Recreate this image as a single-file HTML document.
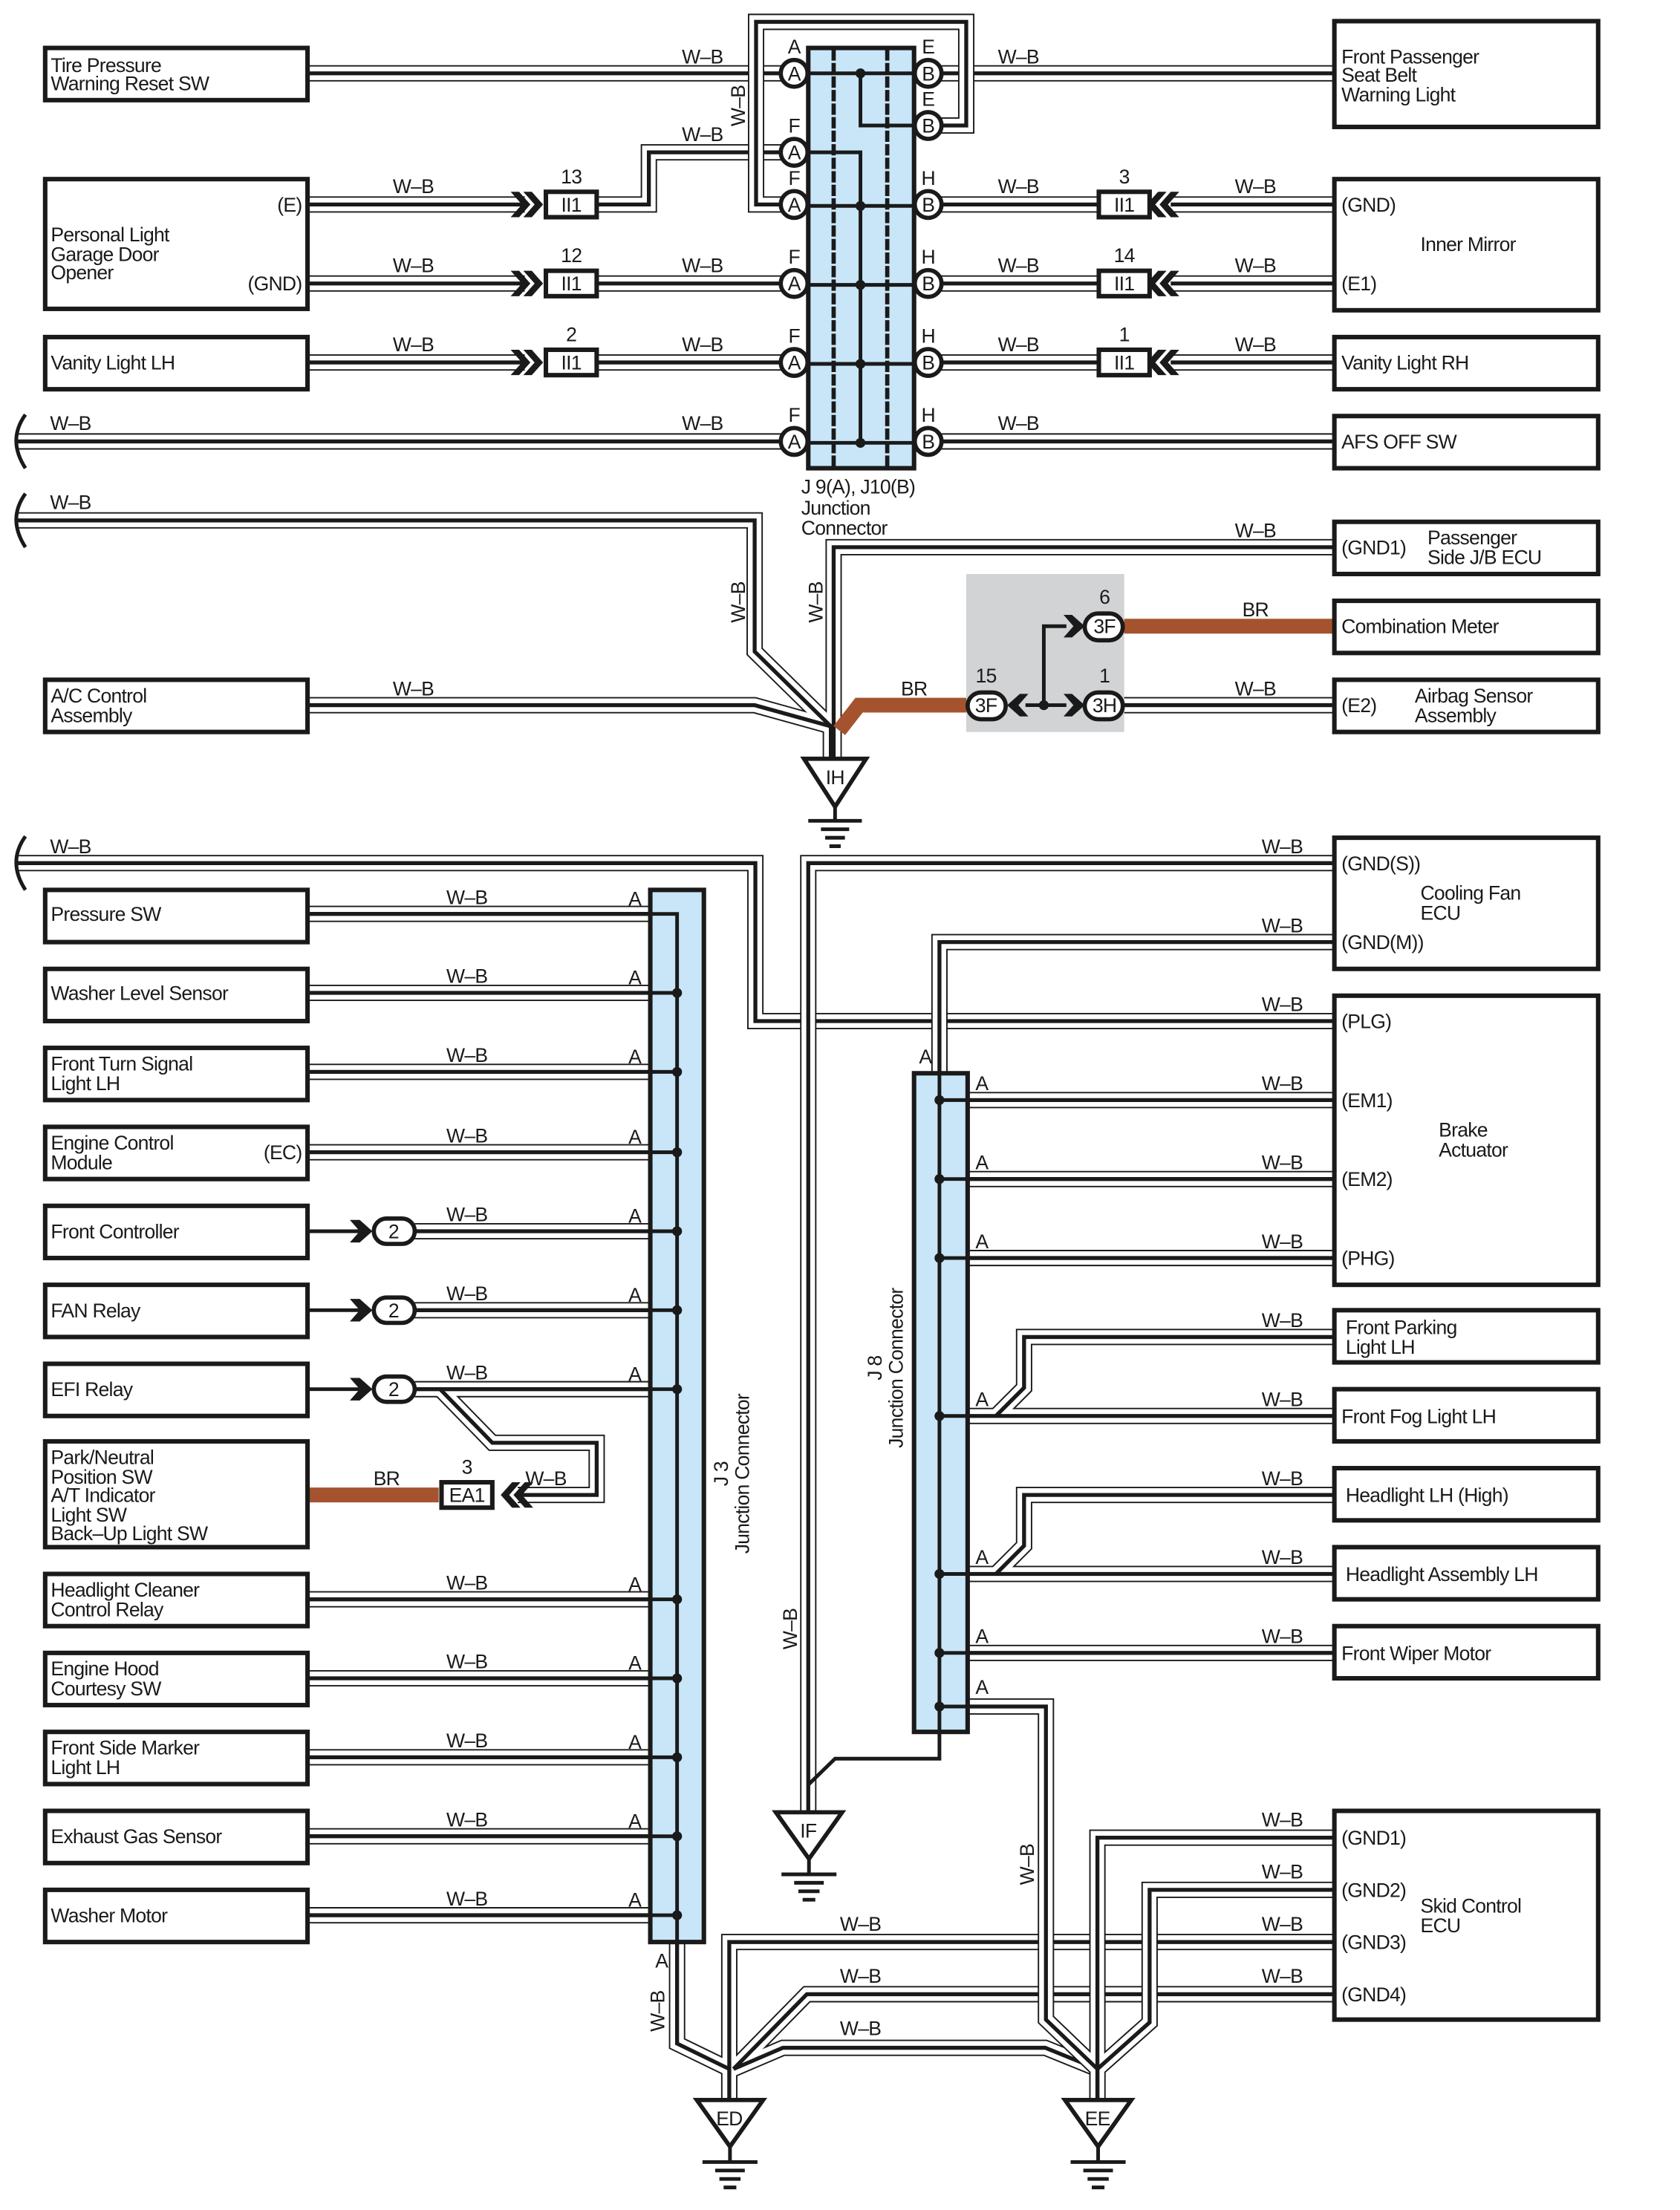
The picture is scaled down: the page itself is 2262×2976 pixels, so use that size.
<!DOCTYPE html>
<html><head><meta charset="utf-8"><style>
html,body{margin:0;padding:0;background:#fff}
svg{display:block}
text{font-family:"Liberation Sans Narrow","Liberation Sans",sans-serif;font-size:14px;fill:#1a1a1a;letter-spacing:-0.4px}
.m{text-anchor:middle}
.e{text-anchor:end}
.bx{fill:#fff;stroke:#1a1a1a;stroke-width:3.2}
.ln{fill:none;stroke:#1a1a1a;stroke-width:2.6}
.ci{fill:#fff;stroke:#1a1a1a;stroke-width:3}
.dot{fill:#1a1a1a}
.br{fill:none;stroke:#a5532f;stroke-width:10.5}
.ch{fill:#1a1a1a}
</style></head><body>
<svg width="2262" height="2976" viewBox="0 0 1191 1567" xmlns="http://www.w3.org/2000/svg">
<defs>
<g id="W">
<path d="M218,52 H563"/>
<path d="M657,52 H946"/>
<path d="M218,145 H372"/><path d="M419,145 H460 V108 H563"/>
<path d="M218,201 H372"/><path d="M419,201 H563"/>
<path d="M218,257 H372"/><path d="M419,257 H563"/>
<path d="M12,313 H563"/>
<path d="M657,145 H780"/><path d="M830,145 H946"/>
<path d="M657,201 H780"/><path d="M830,201 H946"/>
<path d="M657,257 H780"/><path d="M830,257 H946"/>
<path d="M657,313 H946"/>
<path d="M12,369 H535 V462 L589,515 V537"/>
<path d="M218,500 H535 L589,515"/>
<path d="M946,388 H591 V537"/>
<path d="M797,500 H946"/>
<path d="M12,612 H535.5 V724 H946"/>
<path d="M686,780 H946"/><path d="M686,836 H946"/><path d="M686,892 H946"/>
<path d="M686,1004 H946"/><path d="M686,1116 H946"/><path d="M686,1172 H946"/>
<path d="M946,948 H726 V984 L706,1004"/>
<path d="M946,1060 H726 V1096 L706,1116"/>
<path d="M946,1377 H517 V1488"/>
<path d="M946,1414 H572 L520,1467"/>
<path d="M520,1467 L555,1452 H741 L778,1467"/>
<path d="M480,1377 V1449 L517,1467"/>
<path d="M218,648 H461"/><path d="M218,704 H461"/><path d="M218,760 H461"/><path d="M218,817 H461"/>
<path d="M294,873 H461"/><path d="M294,929 H461"/><path d="M294,985 H461"/>
<path d="M218,1134 H461"/><path d="M218,1190 H461"/><path d="M218,1246 H461"/><path d="M218,1302 H461"/><path d="M218,1358 H461"/>
<path d="M312,985 L349,1023 H423 V1060 H367"/>
</g>
<g id="W2">
<path d="M657,89 H685 V15.5 H536 V145 H563"/>
<path d="M946,612 H573 V1284"/>
<path d="M946,668 H666 V761"/>
<path d="M686,1210 H741.5 V1432 L778,1467 V1488"/>
<path d="M946,1303 H778 V1488"/>
<path d="M946,1340 H815 V1434 L778,1467"/>
</g>
</defs>

<rect x="685" y="407" width="112" height="112" fill="#d1d3d4"/>

<g fill="none" stroke-linejoin="miter">
<use href="#W" stroke="#1a1a1a" stroke-width="11.6"/>
<use href="#W" stroke="#fff" stroke-width="9.6"/>
<use href="#W" stroke="#1a1a1a" stroke-width="2.8"/>
<use href="#W2" stroke="#1a1a1a" stroke-width="11.6"/>
<use href="#W2" stroke="#fff" stroke-width="9.6"/>
<use href="#W2" stroke="#1a1a1a" stroke-width="2.8"/>
</g>

<path class="br" d="M218,1060 H311"/>
<path class="br" d="M797,444 H946"/>
<path class="br" d="M685,500 H609 L595,518"/>

<g class="ln" stroke-width="2.2">
<path d="M18,294 Q5,312 18,332"/>
<path d="M18,350 Q5,368 18,388"/>
<path d="M18,593 Q5,611 18,631"/>
</g>

<rect x="573" y="34" width="75" height="298" fill="#c8e6f8" stroke="#1a1a1a" stroke-width="3.2"/>
<g stroke="#1a1a1a" stroke-width="3" stroke-dasharray="8 1.6"><line x1="591" y1="35" x2="591" y2="331"/><line x1="629" y1="35" x2="629" y2="331"/></g>
<g class="ln">
<path d="M573,52 H648"/><path d="M610,52 V89 H648"/>
<path d="M573,108 H610 V314"/>
<path d="M573,146 H648"/><path d="M573,202 H648"/><path d="M573,258 H648"/><path d="M573,314 H648"/>
</g>
<g class="dot"><circle cx="610" cy="52" r="3.5"/><circle cx="610" cy="146" r="3.5"/><circle cx="610" cy="202" r="3.5"/><circle cx="610" cy="258" r="3.5"/><circle cx="610" cy="314" r="3.5"/></g>
<g class="ci">
<circle cx="563" cy="52" r="9.5"/><circle cx="563" cy="108" r="9.5"/><circle cx="563" cy="145" r="9.5"/><circle cx="563" cy="201" r="9.5"/><circle cx="563" cy="257" r="9.5"/><circle cx="563" cy="313" r="9.5"/>
<circle cx="658" cy="52" r="9.5"/><circle cx="658" cy="89" r="9.5"/><circle cx="658" cy="145" r="9.5"/><circle cx="658" cy="201" r="9.5"/><circle cx="658" cy="257" r="9.5"/><circle cx="658" cy="313" r="9.5"/>
</g>
<g class="m" font-size="13">
<text x="563" y="57">A</text><text x="563" y="113">A</text><text x="563" y="150">A</text><text x="563" y="206">A</text><text x="563" y="262">A</text><text x="563" y="318">A</text>
<text x="658" y="57">B</text><text x="658" y="94">B</text><text x="658" y="150">B</text><text x="658" y="206">B</text><text x="658" y="262">B</text><text x="658" y="318">B</text>
<text x="563" y="38">A</text><text x="563" y="94">F</text><text x="563" y="131">F</text><text x="563" y="187">F</text><text x="563" y="243">F</text><text x="563" y="299">F</text>
<text x="658" y="38">E</text><text x="658" y="75">E</text><text x="658" y="131">H</text><text x="658" y="187">H</text><text x="658" y="243">H</text><text x="658" y="299">H</text>
</g>
<text x="568" y="350">J 9(A), J10(B)</text><text x="568" y="365">Junction</text><text x="568" y="379">Connector</text>

<g>
<path class="ch" d="M362,136 L368,136 L376,145 L368,154 L362,154 L370,145Z M371,136 L377,136 L385,145 L377,154 L371,154 L379,145Z"/>
<path class="ch" d="M362,192 L368,192 L376,201 L368,210 L362,210 L370,201Z M371,192 L377,192 L385,201 L377,210 L371,210 L379,201Z"/>
<path class="ch" d="M362,248 L368,248 L376,257 L368,266 L362,266 L370,257Z M371,248 L377,248 L385,257 L377,266 L371,266 L379,257Z"/>
<rect class="bx" x="387" y="136" width="36" height="18"/><rect class="bx" x="387" y="192" width="36" height="18"/><rect class="bx" x="387" y="248" width="36" height="18"/>
<text class="m" x="405" y="150">II1</text><text class="m" x="405" y="206">II1</text><text class="m" x="405" y="262">II1</text>
<text class="m" x="405" y="130">13</text><text class="m" x="405" y="186">12</text><text class="m" x="405" y="242">2</text>
</g>
<g>
<path class="ch" d="M836,136 L830,136 L822,145 L830,154 L836,154 L828,145Z M827,136 L821,136 L813,145 L821,154 L827,154 L819,145Z"/>
<path class="ch" d="M836,192 L830,192 L822,201 L830,210 L836,210 L828,201Z M827,192 L821,192 L813,201 L821,210 L827,210 L819,201Z"/>
<path class="ch" d="M836,248 L830,248 L822,257 L830,266 L836,266 L828,257Z M827,248 L821,248 L813,257 L821,266 L827,266 L819,257Z"/>
<rect class="bx" x="779" y="136" width="36" height="18"/><rect class="bx" x="779" y="192" width="36" height="18"/><rect class="bx" x="779" y="248" width="36" height="18"/>
<text class="m" x="797" y="150">II1</text><text class="m" x="797" y="206">II1</text><text class="m" x="797" y="262">II1</text>
<text class="m" x="797" y="130">3</text><text class="m" x="797" y="186">14</text><text class="m" x="797" y="242">1</text>
</g>

<path class="ln" d="M727,500 H756 M740,500 V444 H756"/>
<circle class="dot" cx="740" cy="500" r="3.5"/>
<path class="ch" d="M754,436 L760,436 L769,444 L760,452 L754,452 L761,444Z"/>
<path class="ch" d="M754,492 L760,492 L769,500 L760,508 L754,508 L761,500Z"/>
<path class="ch" d="M729,492 L723,492 L714,500 L723,508 L729,508 L722,500Z"/>
<rect class="ci" x="769" y="435" width="27" height="19" rx="9.5"/>
<rect class="ci" x="769" y="491" width="27" height="19" rx="9.5"/>
<rect class="ci" x="686" y="491" width="27" height="19" rx="9.5"/>
<g class="m" font-size="13"><text x="783" y="449">3F</text><text x="783" y="505">3H</text><text x="699" y="505">3F</text>
<text x="783" y="428">6</text><text x="783" y="484">1</text><text x="699" y="484">15</text></g>

<g>
<path class="ci" d="M570,538 H614 L592,572Z"/><text class="m" x="592" y="556">IH</text>
<path class="ln" d="M592,572 V582 M573,582 H611 M582,588 H602 M585,594 H599 M588,600 H596"/>
<path class="ci" d="M550,1285 H597 L573.5,1318Z"/><text class="m" x="573" y="1303">IF</text>
<path class="ln" d="M573.5,1318 V1329 M554,1329 H593 M563,1335 H584 M566,1341 H581 M569,1347 H578"/>
<path class="ci" d="M494,1489 H541 L517.5,1522Z"/><text class="m" x="517" y="1507">ED</text>
<path class="ln" d="M517.5,1522 V1533 M498,1533 H537 M507,1539 H528 M510,1545 H525 M513,1551 H522"/>
<path class="ci" d="M755,1489 H802 L778.5,1522Z"/><text class="m" x="778" y="1507">EE</text>
<path class="ln" d="M778.5,1522 V1533 M759,1533 H798 M768,1539 H789 M771,1545 H786 M774,1551 H783"/>
</g>
<path class="ln" d="M666,1228 V1247 H592 L573.5,1265"/>

<rect x="461" y="631" width="38" height="746" fill="#c8e6f8" stroke="#1a1a1a" stroke-width="3.2"/>
<g class="ln"><path d="M461,648 H480 V1377"/>
<path d="M461,704 H480 M461,760 H480 M461,817 H480 M461,873 H480 M461,929 H480 M461,985 H480 M461,1134 H480 M461,1190 H480 M461,1246 H480 M461,1302 H480 M461,1358 H480"/></g>
<g class="dot"><circle cx="480" cy="704" r="3.5"/><circle cx="480" cy="760" r="3.5"/><circle cx="480" cy="817" r="3.5"/><circle cx="480" cy="873" r="3.5"/><circle cx="480" cy="929" r="3.5"/><circle cx="480" cy="985" r="3.5"/><circle cx="480" cy="1134" r="3.5"/><circle cx="480" cy="1190" r="3.5"/><circle cx="480" cy="1246" r="3.5"/><circle cx="480" cy="1302" r="3.5"/><circle cx="480" cy="1358" r="3.5"/></g>
<text class="m" transform="translate(516,1045) rotate(-90)">J 3</text>
<text class="m" transform="translate(531,1045) rotate(-90)">Junction Connector</text>

<rect x="648" y="761" width="38" height="467" fill="#c8e6f8" stroke="#1a1a1a" stroke-width="3.2"/>
<g class="ln"><path d="M666,761 V1228"/>
<path d="M666,780 H686 M666,836 H686 M666,892 H686 M666,1004 H686 M666,1116 H686 M666,1172 H686 M666,1210 H686"/></g>
<g class="dot"><circle cx="666" cy="780" r="3.5"/><circle cx="666" cy="836" r="3.5"/><circle cx="666" cy="892" r="3.5"/><circle cx="666" cy="1004" r="3.5"/><circle cx="666" cy="1116" r="3.5"/><circle cx="666" cy="1172" r="3.5"/><circle cx="666" cy="1210" r="3.5"/></g>
<text class="m" transform="translate(625,970) rotate(-90)">J 8</text>
<text class="m" transform="translate(640,970) rotate(-90)">Junction Connector</text>

<g>
<path class="ln" stroke-width="2.2" d="M218,873 H255 M218,929 H255 M218,985 H255"/>
<path class="ch" d="M248,865 L255,865 L264,873 L255,881 L248,881 L255,873Z"/>
<path class="ch" d="M248,921 L255,921 L264,929 L255,937 L248,937 L255,929Z"/>
<path class="ch" d="M248,977 L255,977 L264,985 L255,993 L248,993 L255,985Z"/>
<rect class="ci" x="265" y="864" width="29" height="18" rx="9"/>
<rect class="ci" x="265" y="920" width="29" height="18" rx="9"/>
<rect class="ci" x="265" y="976" width="29" height="18" rx="9"/>
<text class="m" x="279" y="878" font-size="13">2</text><text class="m" x="279" y="934" font-size="13">2</text><text class="m" x="279" y="990" font-size="13">2</text>
</g>
<path class="ch" d="M378,1051 L372,1051 L364,1060 L372,1069 L378,1069 L370,1060Z M369,1051 L363,1051 L355,1060 L363,1069 L369,1069 L361,1060Z"/>
<rect class="bx" x="313" y="1051" width="36" height="18"/>
<text class="m" x="331" y="1065">EA1</text><text class="m" x="331" y="1045">3</text>

<g class="bx">
<rect x="32" y="34" width="186" height="37"/>
<rect x="32" y="127" width="186" height="92"/>
<rect x="32" y="239" width="186" height="37"/>
<rect x="32" y="482" width="186" height="37"/>
<rect x="946" y="15" width="187" height="75"/>
<rect x="946" y="127" width="187" height="93"/>
<rect x="946" y="239" width="187" height="37"/>
<rect x="946" y="295" width="187" height="37"/>
<rect x="946" y="370" width="187" height="37"/>
<rect x="946" y="426" width="187" height="37"/>
<rect x="946" y="482" width="187" height="37"/>
<rect x="946" y="594" width="187" height="93"/>
<rect x="946" y="706" width="187" height="205"/>
<rect x="946" y="929" width="187" height="37"/>
<rect x="946" y="985" width="187" height="37"/>
<rect x="946" y="1041" width="187" height="37"/>
<rect x="946" y="1097" width="187" height="37"/>
<rect x="946" y="1153" width="187" height="37"/>
<rect x="946" y="1284" width="187" height="148"/>
<rect x="32" y="631" width="186" height="37"/>
<rect x="32" y="687" width="186" height="37"/>
<rect x="32" y="743" width="186" height="37"/>
<rect x="32" y="799" width="186" height="37"/>
<rect x="32" y="855" width="186" height="37"/>
<rect x="32" y="911" width="186" height="37"/>
<rect x="32" y="967" width="186" height="37"/>
<rect x="32" y="1022" width="186" height="75"/>
<rect x="32" y="1116" width="186" height="37"/>
<rect x="32" y="1172" width="186" height="37"/>
<rect x="32" y="1228" width="186" height="37"/>
<rect x="32" y="1284" width="186" height="37"/>
<rect x="32" y="1340" width="186" height="37"/>
</g>
<g>
<text x="36" y="51">Tire Pressure</text><text x="36" y="64">Warning Reset SW</text>
<text x="36" y="171">Personal Light</text><text x="36" y="185">Garage Door</text><text x="36" y="198">Opener</text>
<text class="e" x="214" y="150">(E)</text><text class="e" x="214" y="206">(GND)</text>
<text x="36" y="262">Vanity Light LH</text>
<text x="36" y="498">A/C Control</text><text x="36" y="512">Assembly</text>
<text x="951" y="45">Front Passenger</text><text x="951" y="58">Seat Belt</text><text x="951" y="72">Warning Light</text>
<text x="951" y="150">(GND)</text><text x="951" y="206">(E1)</text><text x="1007" y="178">Inner Mirror</text>
<text x="951" y="262">Vanity Light RH</text>
<text x="951" y="318">AFS OFF SW</text>
<text x="951" y="393">(GND1)</text><text x="1012" y="386">Passenger</text><text x="1012" y="400">Side J/B ECU</text>
<text x="951" y="449">Combination Meter</text>
<text x="951" y="505">(E2)</text><text x="1003" y="498">Airbag Sensor</text><text x="1003" y="512">Assembly</text>
<text x="951" y="617">(GND(S))</text><text x="951" y="673">(GND(M))</text><text x="1007" y="638">Cooling Fan</text><text x="1007" y="652">ECU</text>
<text x="951" y="729">(PLG)</text><text x="951" y="785">(EM1)</text><text x="951" y="841">(EM2)</text><text x="951" y="897">(PHG)</text>
<text x="1020" y="806">Brake</text><text x="1020" y="820">Actuator</text>
<text x="954" y="946">Front Parking</text><text x="954" y="960">Light LH</text>
<text x="951" y="1009">Front Fog Light LH</text>
<text x="954" y="1065">Headlight LH (High)</text>
<text x="954" y="1121">Headlight Assembly LH</text>
<text x="951" y="1177">Front Wiper Motor</text>
<text x="951" y="1308">(GND1)</text><text x="951" y="1345">(GND2)</text><text x="951" y="1382">(GND3)</text><text x="951" y="1419">(GND4)</text>
<text x="1007" y="1356">Skid Control</text><text x="1007" y="1370">ECU</text>
<text x="36" y="653">Pressure SW</text>
<text x="36" y="709">Washer Level Sensor</text>
<text x="36" y="759">Front Turn Signal</text><text x="36" y="773">Light LH</text>
<text x="36" y="815">Engine Control</text><text x="36" y="829">Module</text><text class="e" x="214" y="822">(EC)</text>
<text x="36" y="878">Front Controller</text>
<text x="36" y="934">FAN Relay</text>
<text x="36" y="990">EFI Relay</text>
<text x="36" y="1038">Park/Neutral</text><text x="36" y="1052">Position SW</text><text x="36" y="1065">A/T Indicator</text><text x="36" y="1079">Light SW</text><text x="36" y="1092">Back–Up Light SW</text>
<text x="36" y="1132">Headlight Cleaner</text><text x="36" y="1146">Control Relay</text>
<text x="36" y="1188">Engine Hood</text><text x="36" y="1202">Courtesy SW</text>
<text x="36" y="1244">Front Side Marker</text><text x="36" y="1258">Light LH</text>
<text x="36" y="1307">Exhaust Gas Sensor</text>
<text x="36" y="1363">Washer Motor</text>
</g>

<g class="m">
<text x="498" y="45">W–B</text><text x="722" y="45">W–B</text>
<text x="498" y="100">W–B</text>
<text x="293" y="137">W–B</text><text x="722" y="137">W–B</text><text x="890" y="137">W–B</text>
<text x="293" y="193">W–B</text><text x="498" y="193">W–B</text><text x="722" y="193">W–B</text><text x="890" y="193">W–B</text>
<text x="293" y="249">W–B</text><text x="498" y="249">W–B</text><text x="722" y="249">W–B</text><text x="890" y="249">W–B</text>
<text x="50" y="305">W–B</text><text x="498" y="305">W–B</text><text x="722" y="305">W–B</text>
<text x="50" y="361">W–B</text>
<text x="890" y="381">W–B</text>
<text x="890" y="437">BR</text><text x="648" y="493">BR</text>
<text x="293" y="493">W–B</text><text x="890" y="493">W–B</text>
<text x="50" y="605">W–B</text>
<text x="909" y="605">W–B</text><text x="909" y="661">W–B</text><text x="909" y="717">W–B</text>
<text x="909" y="773">W–B</text><text x="909" y="829">W–B</text><text x="909" y="885">W–B</text><text x="909" y="941">W–B</text>
<text x="909" y="997">W–B</text><text x="909" y="1053">W–B</text><text x="909" y="1109">W–B</text><text x="909" y="1165">W–B</text>
<text x="909" y="1295">W–B</text><text x="909" y="1332">W–B</text><text x="909" y="1369">W–B</text><text x="909" y="1406">W–B</text>
<text x="610" y="1369">W–B</text><text x="610" y="1406">W–B</text><text x="610" y="1443">W–B</text>
<text x="331" y="641">W–B</text><text x="331" y="697">W–B</text><text x="331" y="753">W–B</text><text x="331" y="810">W–B</text>
<text x="331" y="866">W–B</text><text x="331" y="922">W–B</text><text x="331" y="978">W–B</text>
<text x="331" y="1127">W–B</text><text x="331" y="1183">W–B</text><text x="331" y="1239">W–B</text><text x="331" y="1295">W–B</text><text x="331" y="1351">W–B</text>
<text x="387" y="1053">W–B</text><text x="274" y="1053">BR</text>
<text transform="translate(528,75) rotate(-90)">W–B</text>
<text transform="translate(528,427) rotate(-90)">W–B</text>
<text transform="translate(583,427) rotate(-90)">W–B</text>
<text transform="translate(565,1155) rotate(-90)">W–B</text>
<text transform="translate(733,1322) rotate(-90)">W–B</text>
<text transform="translate(471,1426) rotate(-90)">W–B</text>
<text x="450" y="642">A</text><text x="450" y="698">A</text><text x="450" y="754">A</text><text x="450" y="811">A</text>
<text x="450" y="867">A</text><text x="450" y="923">A</text><text x="450" y="979">A</text>
<text x="450" y="1128">A</text><text x="450" y="1184">A</text><text x="450" y="1240">A</text><text x="450" y="1296">A</text><text x="450" y="1352">A</text>
<text x="469" y="1395">A</text>
<text x="656" y="754">A</text>
<text x="696" y="773">A</text><text x="696" y="829">A</text><text x="696" y="885">A</text><text x="696" y="997">A</text>
<text x="696" y="1109">A</text><text x="696" y="1165">A</text><text x="696" y="1201">A</text>
</g>
</svg>
</body></html>
